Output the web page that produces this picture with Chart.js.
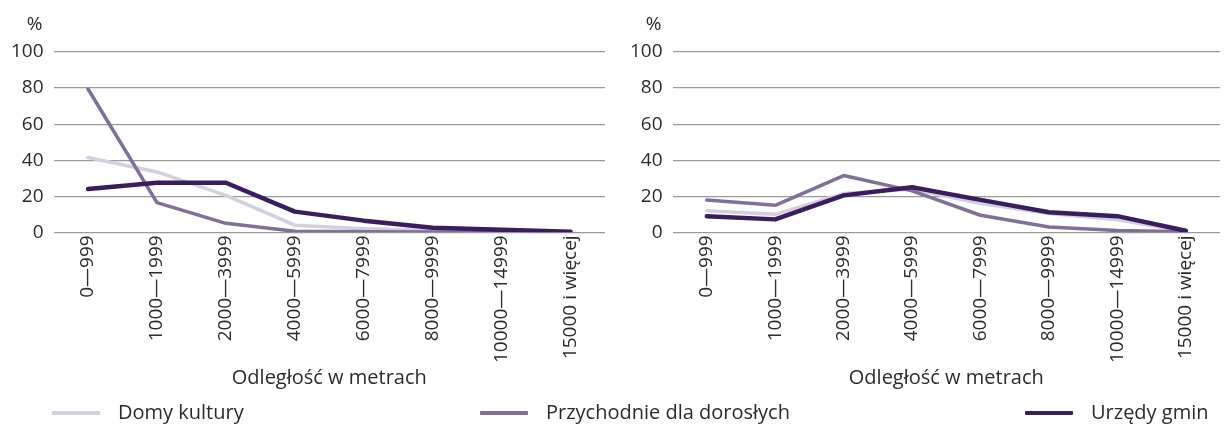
<!DOCTYPE html>
<html>
<head>
<meta charset="utf-8">
<script src="https://cdn.jsdelivr.net/npm/chart.js@4.4.1/dist/chart.umd.min.js"></script>
<style>
  html, body { margin: 0; padding: 0; background: #fff; }
  body { width: 1224px; height: 425px; position: relative; overflow: hidden; font-family: "Open Sans", "Noto Sans", sans-serif; color: #2b2b2b; }
  .wrap { position: absolute; top: 0; width: 612px; height: 400px; }
  #w1 { left: 0; }
  #w2 { left: 612px; }
  .leg { position: absolute; top: 399px; font-size: 20px; line-height: 26px; color: #2b2b2b; white-space: nowrap; }
  .leg span.sw { display: inline-block; width: 48px; height: 4px; vertical-align: middle; margin-right: 18px; border-radius: 1px; position: relative; top: -1px; }
</style>
</head>
<body>
<div class="wrap" id="w1"><canvas id="c1" width="612" height="400"></canvas></div>
<div class="wrap" id="w2"><canvas id="c2" width="612" height="400"></canvas></div>
<div class="leg" style="left:52px"><span class="sw" style="background:#d3cfdc"></span>Domy kultury</div>
<div class="leg" style="left:480px"><span class="sw" style="background:#7f6f99"></span>Przychodnie dla dorosłych</div>
<div class="leg" style="left:1025px"><span class="sw" style="background:#3a1d5e"></span>Urzędy gmin</div>
<script>
const categories = ["0—999", "1000—1999", "2000—3999", "4000—5999", "6000—7999", "8000—9999", "10000—14999", "15000 i więcej"];
const seriesNames = ["Domy kultury", "Przychodnie dla dorosłych", "Urzędy gmin"];
const yTicks = [0, 20, 40, 60, 80, 100];
const xTitle = "Odległość w metrach";

// left panel
const leftDomy = [41.5, 33.5, 20.5, 4, 2, 1, 0.6, 0.3];
const leftPrzychodnie = [79.5, 16.5, 5, 0.6, 0.3, 0.2, 0.1, 0.1];
const leftUrzedy = [24, 27.5, 27.5, 11.5, 6.5, 2.5, 1.5, 0.4];

// right panel
const rightDomy = [12, 10, 21.5, 24, 16, 10.5, 7, 0.5];
const rightPrzychodnie = [18, 15, 31.5, 23, 9.5, 3, 1, 0.3];
const rightUrzedy = [9, 7.2, 20.5, 25, 18, 11.2, 9, 0.9];

const colors = ["#d3cfdc", "#7f6f99", "#3a1d5e"];
const widths = [3.5, 3.5, 4.5];
const FONT = "'Open Sans', 'Noto Sans', sans-serif";
const TXT = "#2b2b2b";

const percentPlugin = {
  id: 'percentLabel',
  afterDraw(chart) {
    const y = chart.scales.y;
    const ctx = chart.ctx;
    ctx.save();
    ctx.font = "19px " + FONT;
    ctx.fillStyle = TXT;
    ctx.textAlign = "center";
    ctx.textBaseline = "middle";
    ctx.fillText("%", y.right - 19, 25);
    ctx.restore();
  }
};

function makeChart(id, series, padLeft, padRight) {
  const datasets = series.map((d, i) => ({
    label: seriesNames[i],
    data: d,
    borderColor: colors[i],
    backgroundColor: colors[i],
    borderWidth: widths[i],
    pointRadius: 0,
    tension: 0,
    fill: false,
    order: 3 - i,
    borderJoinStyle: 'round',
    borderCapStyle: 'round'
  }));
  return new Chart(document.getElementById(id), {
    type: 'line',
    data: { labels: categories, datasets },
    options: {
      responsive: false,
      animation: false,
      events: [],
      layout: { padding: { top: 52, left: padLeft, right: padRight, bottom: 10 } },
      plugins: { legend: { display: false }, tooltip: { enabled: false }, title: { display: false } },
      scales: {
        x: {
          offset: true,
          grid: { display: false, drawTicks: false },
          border: { display: false },
          ticks: {
            minRotation: 90, maxRotation: 90, autoSkip: false,
            color: TXT, font: { family: FONT, size: 19 }, padding: 3
          },
          title: { display: true, text: xTitle, color: TXT, font: { family: FONT, size: 20 }, padding: { top: 0, bottom: 0 } }
        },
        y: {
          min: 0, max: 100,
          afterBuildTicks: (ax) => { ax.ticks = yTicks.map(v => ({ value: v })); },
          grid: { color: "#9a9a9a", lineWidth: 1.2, drawTicks: false },
          border: { display: false },
          ticks: { color: TXT, font: { family: FONT, size: 19 }, padding: 10 }
        }
      }
    },
    plugins: [percentPlugin]
  });
}

makeChart('c1', [leftDomy, leftPrzychodnie, leftUrzedy], 1, 7);
makeChart('c2', [rightDomy, rightPrzychodnie, rightUrzedy], 8, 4);
</script>
</body>
</html>
